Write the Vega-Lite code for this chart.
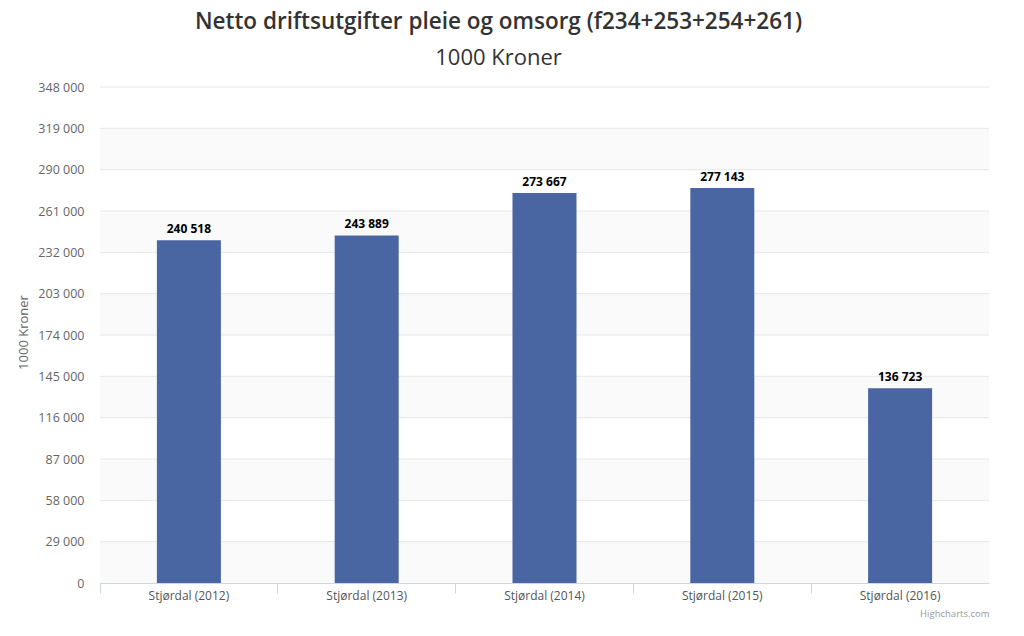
{
  "$schema": "https://vega.github.io/schema/vega-lite/v6.json",
  "width": 889,
  "height": 496,
  "autosize": {"type": "none"},
  "padding": {"left": 100, "top": 87, "right": 35, "bottom": 53},
  "background": "#ffffff",
  "title": {
    "text": "Netto driftsutgifter pleie og omsorg (f234+253+254+261)",
    "subtitle": "1000 Kroner",
    "anchor": "middle",
    "dx": -46,
    "offset": 12,
    "font": "Open Sans",
    "fontSize": 22.5,
    "fontWeight": 600,
    "color": "#333333",
    "subtitleFont": "Open Sans",
    "subtitleFontSize": 22,
    "subtitleFontWeight": "normal",
    "subtitleColor": "#333333",
    "subtitlePadding": 15
  },
  "datasets": {
    "bars": [
      {"kommune": "Stjørdal (2012)", "value": 240518},
      {"kommune": "Stjørdal (2013)", "value": 243889},
      {"kommune": "Stjørdal (2014)", "value": 273667},
      {"kommune": "Stjørdal (2015)", "value": 277143},
      {"kommune": "Stjørdal (2016)", "value": 136723}
    ],
    "bands": [
      {"from": 0, "to": 29000},
      {"from": 58000, "to": 87000},
      {"from": 116000, "to": 145000},
      {"from": 174000, "to": 203000},
      {"from": 232000, "to": 261000},
      {"from": 290000, "to": 319000}
    ],
    "ticks": [
      {"v": 29000}, {"v": 58000}, {"v": 87000}, {"v": 116000}, {"v": 145000},
      {"v": 174000}, {"v": 203000}, {"v": 232000}, {"v": 261000}, {"v": 290000},
      {"v": 319000}, {"v": 348000}
    ]
  },
  "layer": [
    {
      "data": {"name": "bands"},
      "mark": {"type": "rect", "color": "#fafafa"},
      "encoding": {
        "y": {"field": "from", "type": "quantitative", "title": "1000 Kroner"},
        "y2": {"field": "to"}
      }
    },
    {
      "data": {"name": "ticks"},
      "mark": {"type": "rule", "color": "#e6e6e6", "strokeWidth": 1},
      "encoding": {
        "y": {"field": "v", "type": "quantitative", "title": "1000 Kroner"}
      }
    },
    {
      "data": {"name": "bars"},
      "mark": {"type": "bar", "color": "#4966a3", "width": {"band": 0.36}},
      "encoding": {
        "x": {
          "field": "kommune",
          "type": "nominal",
          "title": "Highcharts.com",
          "scale": {"paddingInner": 0, "paddingOuter": 0}
        },
        "y": {
          "field": "value",
          "type": "quantitative",
          "title": "1000 Kroner",
          "scale": {"domain": [0, 348000], "nice": false},
          "axis": {
            "values": [0, 29000, 58000, 87000, 116000, 145000, 174000, 203000, 232000, 261000, 290000, 319000, 348000],
            "format": ",d"
          }
        }
      }
    },
    {
      "data": {"name": "bars"},
      "mark": {"type": "text", "baseline": "bottom", "dy": -4, "font": "Open Sans", "fontSize": 12, "fontWeight": "bold", "color": "#000000"},
      "encoding": {
        "x": {"field": "kommune", "type": "nominal", "title": "Highcharts.com"},
        "y": {"field": "value", "type": "quantitative", "title": "1000 Kroner"},
        "text": {"field": "value", "type": "quantitative", "format": ",d"}
      }
    }
  ],
  "config": {
    "locale": {
      "number": {"decimal": ",", "thousands": " ", "grouping": [3], "currency": ["", " kr"]}
    },
    "view": {"stroke": null},
    "axisY": {
      "grid": false,
      "domain": false,
      "ticks": false,
      "labelFont": "Open Sans",
      "labelFontSize": 12.5,
      "labelColor": "#666666",
      "labelPadding": 16,
      "titleFont": "Open Sans",
      "titleFontSize": 13,
      "titleFontWeight": "normal",
      "titleColor": "#666666",
      "titleX": -77,
      "titleY": 245,
      "titleAlign": "center",
      "titleBaseline": "middle",
      "titleAngle": -90
    },
    "axisX": {
      "grid": false,
      "domainColor": "#ccd6eb",
      "tickColor": "#ccd6eb",
      "tickSize": 10,
      "bandPosition": 0,
      "labelAngle": 0,
      "labelFont": "Open Sans",
      "labelFontSize": 12,
      "labelColor": "#555555",
      "labelPadding": -3,
      "titleFont": "Open Sans",
      "titleFontSize": 9.5,
      "titleFontWeight": "normal",
      "titleColor": "#999999",
      "titleAnchor": "end",
      "titlePadding": 7
    }
  }
}
